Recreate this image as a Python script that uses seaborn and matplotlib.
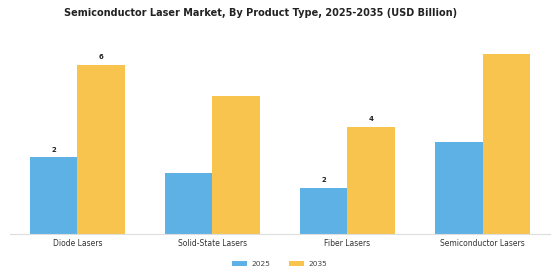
import matplotlib
matplotlib.use('Agg')
import matplotlib.pyplot as plt
import pandas as pd
import seaborn as sns

# 数据
categories = ['Diode Lasers', 'Solid-State Lasers', 'Fiber Lasers', 'Semiconductor Lasers']
years = ['2025', '2035']
values_2025 = [2.5, 2.0, 1.5, 3.0]
values_2035 = [5.5, 4.5, 3.5, 5.85]
# 只有部分柱子带数值标签
labeled = {('Diode Lasers', '2025'), ('Diode Lasers', '2035'),
           ('Fiber Lasers', '2025'), ('Fiber Lasers', '2035')}

colors = ['#5DB1E4', '#F8C44D']

df = pd.DataFrame({
    'category': categories * 2,
    'year': [years[0]] * 4 + [years[1]] * 4,
    'value': values_2025 + values_2035,
})

sns.set_style('white')
plt.rcParams['font.family'] = ['DejaVu Sans']

fig = plt.figure(figsize=(5.6, 2.8), dpi=100)
ax = fig.add_axes([10 / 560, 45.7 / 280, 540 / 560, 200 / 280])

sns.barplot(data=df, x='category', y='value', hue='year', order=categories,
            hue_order=years, palette=colors, width=0.7, saturation=1,
            edgecolor='none', ax=ax)

# 数值标签
for container, year in zip(ax.containers, years):
    for bar, cat in zip(container, categories):
        if (cat, year) in labeled:
            h = bar.get_height()
            ax.annotate(f'{h:.0f}', xy=(bar.get_x() + bar.get_width() / 2, h),
                        xytext=(0, 3.5), textcoords='offset points',
                        ha='center', va='bottom', fontsize=5,
                        fontweight='bold', color='#222222')

ax.set_ylim(0, 6.5)
ax.set_xlim(-0.5, 3.5)
ax.set_xlabel('')
ax.set_ylabel('')
ax.set_yticks([])
ax.tick_params(axis='x', labelsize=5.5, colors='#333333', length=0, pad=3.5)
for s in ['top', 'right', 'left']:
    ax.spines[s].set_visible(False)
ax.spines['bottom'].set_color('#dddddd')
ax.spines['bottom'].set_linewidth(0.8)

ax.legend(loc='upper center', bbox_to_anchor=(0.5, -0.1), ncol=2,
          frameon=False, fontsize=5.4, handlelength=2.0, handleheight=0.6,
          handletextpad=0.6, columnspacing=2.5, labelcolor='#444444')

fig.suptitle('Semiconductor Laser Market, By Product Type, 2025-2035 (USD Billion)',
             x=0.466, y=0.972, fontsize=7, fontweight='bold', color='#222222')

fig.savefig('out.png', dpi=100, facecolor='white')
